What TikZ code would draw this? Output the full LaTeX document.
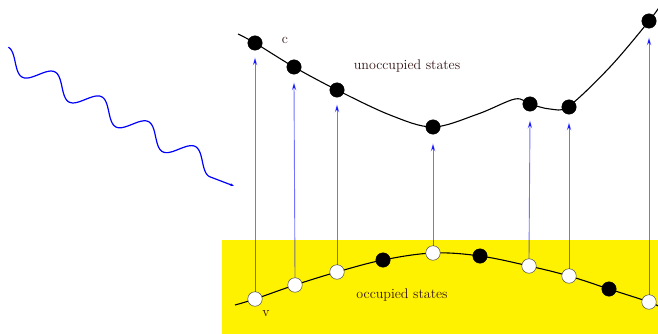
\documentclass[tikz,border=0pt]{standalone}
\usetikzlibrary{arrows.meta}
\definecolor{txt}{rgb}{0.2,0.08,0.08}
\begin{document}
\begin{tikzpicture}[x=1pt,y=-1pt,
  fulldot/.style={circle,fill=black,draw=black,minimum size=14.5pt,inner sep=0pt},
  emptydot/.style={circle,fill=white,draw=black!70,line width=0.5pt,minimum size=14.5pt,inner sep=0pt},
  band/.style={line width=1.1pt,black},
  excite/.style={blue,line width=0.9pt,draw opacity=0.55,-{Stealth[length=8pt,width=4.5pt]}},
  wave/.style={blue,line width=1.2pt,-{Stealth[length=4pt,width=3pt]}},
  lbl/.style={text=txt,font=\fontsize{14}{16}\selectfont,inner sep=0pt}]
\useasboundingbox (0,0) rectangle (658,334);
\fill[yellow] (222,240) rectangle (658,334);
% conduction band
\draw[band] plot[smooth,tension=0.55] coordinates {(238,34) (255,43) (294,67) (337,90) (390,115) (433,127) (478,114) (515,99) (530,104) (550,109) (569,106) (610,67) (649,21) (662,3)};
% valence band
\draw[band] plot[smooth,tension=0.6] coordinates {(235,305) (255,299) (295,285) (337,272) (383,260) (433,253) (480,256) (529,266) (569,276) (609,289) (649,302) (662,308)};
% upper dots
\node[fulldot] (c1) at (255,43) {};
\node[fulldot] (c2) at (294,67) {};
\node[fulldot] (c3) at (337,90) {};
\node[fulldot] (c4) at (433,127) {};
\node[fulldot] (c5) at (530,104) {};
\node[fulldot] (c6) at (569,107) {};
\node[fulldot] (c7) at (649,21) {};
% lower dots
\node[emptydot] (v1) at (255,299) {};
\node[emptydot] (v2) at (295,285) {};
\node[emptydot] (v3) at (337,272) {};
\node[fulldot] (v4) at (383,260) {};
\node[emptydot] (v5) at (433,253) {};
\node[fulldot] (v6) at (480,256) {};
\node[emptydot] (v7) at (529,266) {};
\node[emptydot] (v8) at (569,276) {};
\node[fulldot] (v9) at (609,289) {};
\node[emptydot] (v10) at (649,302) {};
% excitations
\draw[excite] (v1.north) -- ([yshift=-7pt]c1.south);
\draw[excite] (v2.north) -- ([yshift=-8pt]c2.south);
\draw[excite] (v3.north) -- ([yshift=-7pt]c3.south);
\draw[excite] (v5.north) -- ([yshift=-9pt]c4.south);
\draw[excite] (v7.north) -- ([yshift=-9pt]c5.south);
\draw[excite] (v8.north) -- ([yshift=-8pt]c6.south);
\draw[excite] (v10.north) -- ([yshift=-9pt]c7.south);
% labels
\node[lbl] (lc) at (285,40) {c};
\node[lbl] (lv) at (266,314) {v};
\node[lbl] (lu) at (407,66) {unoccupied states};
\node[lbl] (lo) at (402,295) {occupied states};
% photon
\coordinate (wend) at (234,186);
\draw[wave] plot[domain=-66:172.25,samples=160,smooth] ({62+0.883*\x-4.69*sin(6.7925*\x)},{87+0.469*\x+8.83*sin(6.7925*\x)}) -- (wend);
\end{tikzpicture}
\end{document}
